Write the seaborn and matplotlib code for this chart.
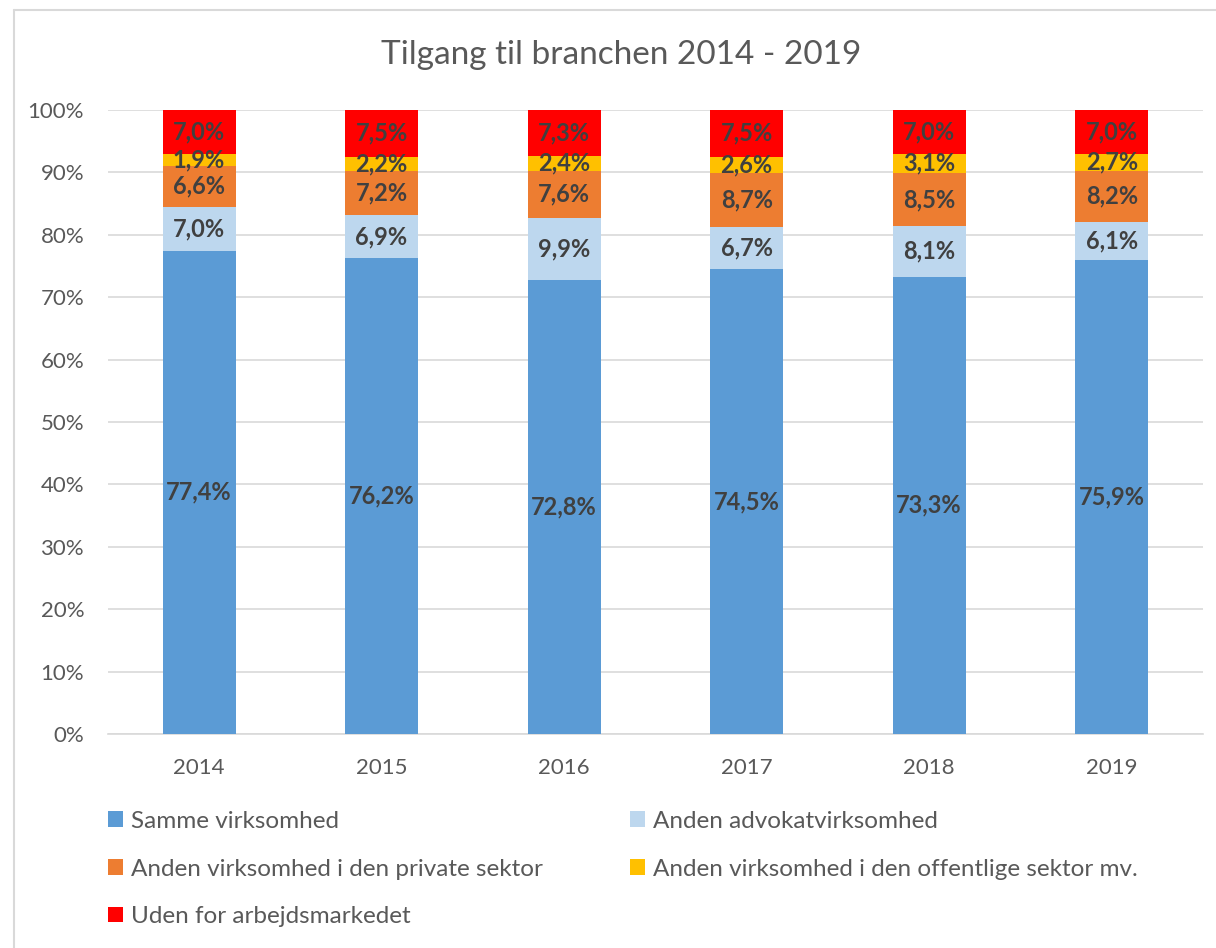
import pandas as pd
import numpy as np
import matplotlib.pyplot as plt
import seaborn as sns
from matplotlib.patches import Patch
from matplotlib.lines import Line2D

# --- Data ---
years = ['2014', '2015', '2016', '2017', '2018', '2019']
series = ['Samme virksomhed', 'Anden advokatvirksomhed',
          'Anden virksomhed i den private sektor',
          'Anden virksomhed i den offentlige sektor mv.',
          'Uden for arbejdsmarkedet']
samme = [77.4, 76.2, 72.8, 74.5, 73.3, 75.9]
advokat = [7.0, 6.9, 9.9, 6.7, 8.1, 6.1]
privat = [6.6, 7.2, 7.6, 8.7, 8.5, 8.2]
offentlig = [1.9, 2.2, 2.4, 2.6, 3.1, 2.7]
uden = [7.0, 7.5, 7.3, 7.5, 7.0, 7.0]
colors = ['#5B9BD5', '#BDD7EE', '#ED7D31', '#FFC000', '#FF0000']

values = [samme, advokat, privat, offentlig, uden]
df = pd.DataFrame({s: v for s, v in zip(series, values)}, index=years)
# 100% stacked: scale heights so each bar fills to 100
share = df.div(df.sum(axis=1), axis=0) * 100
cum = share.cumsum(axis=1)

sns.set_theme(style='white')
plt.rcParams['font.family'] = ['Lato', 'DejaVu Sans']

fig = plt.figure(figsize=(12.16, 9.48), dpi=100)
ax = fig.add_axes([0.0886, 0.2257, 0.9007, 0.6583])

# draw from the top segment down so lower ones cover upper ones
for s, c in reversed(list(zip(series, colors))):
    sns.barplot(x=years, y=cum[s].values, color=c, width=0.4,
                saturation=1, linewidth=0, ax=ax, zorder=3)

# --- data labels (original values) ---
for i, yr in enumerate(years):
    base = 0
    for s in series:
        h = share.loc[yr, s]
        ax.text(i, base + h / 2, f"{df.loc[yr, s]:.1f}%".replace('.', ','),
                ha='center', va='center', fontsize=17, fontweight='bold',
                color='#404040', zorder=5)
        base += h

ax.set_ylim(0, 100)
ax.set_xlim(-0.5, len(years) - 0.5)
ax.set_yticks(np.arange(0, 101, 10))
ax.set_yticklabels([f"{t}%" for t in range(0, 101, 10)])
ax.yaxis.grid(True, color='#D9D9D9', linewidth=1.2, zorder=0)
ax.set_axisbelow(True)
for sp in ['top', 'right', 'left']:
    ax.spines[sp].set_visible(False)
ax.spines['bottom'].set_color('#D9D9D9')
ax.spines['bottom'].set_linewidth(1.2)
ax.tick_params(axis='both', length=0, labelsize=16, colors='#595959')
ax.tick_params(axis='x', pad=17)
ax.tick_params(axis='y', pad=17)
ax.set_xlabel('')
ax.set_ylabel('')

fig.text(0.511, 0.942, 'Tilgang til branchen 2014 - 2019', ha='center',
         va='center', fontsize=24, color='#595959')

# legend: row-wise order via column filling
order = [0, 2, 4, 1, 3]
handles = [Patch(facecolor=colors[k], edgecolor='none') for k in order]
labels = [series[k] for k in order]
fig.legend(handles, labels, ncol=2, loc='upper left',
           bbox_to_anchor=(0.0808, 0.155), frameon=False, fontsize=17.5,
           labelcolor='#595959', handlelength=0.6, handleheight=0.6,
           handletextpad=0.33, columnspacing=3.6, labelspacing=1.1,
           borderaxespad=0)

# outer chart frame
fig.add_artist(Line2D([14 / 1216, 14 / 1216], [0, 1 - 10 / 948],
                      transform=fig.transFigure, color='#D9D9D9', lw=1.5))
fig.add_artist(Line2D([14 / 1216, 1], [1 - 10 / 948, 1 - 10 / 948],
                      transform=fig.transFigure, color='#D9D9D9', lw=1.5))

fig.savefig('out.png', dpi=100)
